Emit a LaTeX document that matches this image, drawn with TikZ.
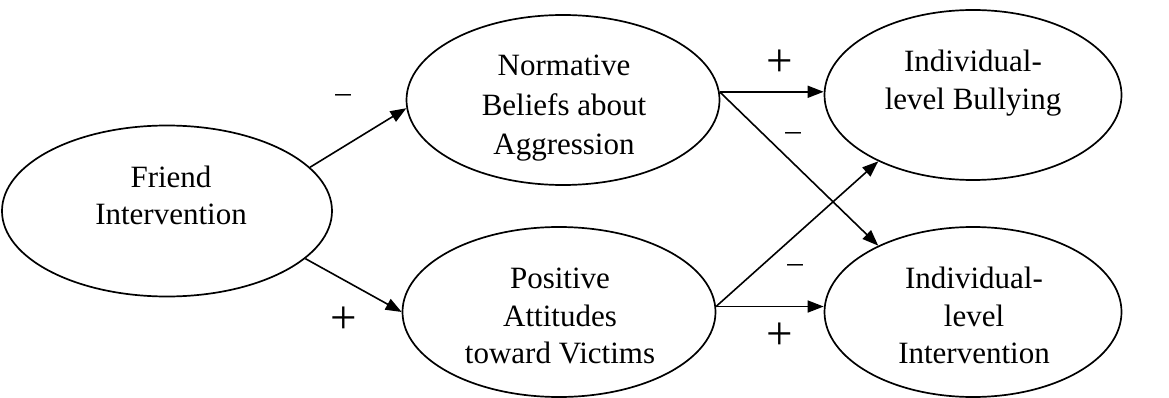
\documentclass[tikz,border=0pt]{standalone}
\usepackage{fontspec}
\setmainfont{Liberation Serif}
\usetikzlibrary{shapes.geometric,arrows.meta}
\begin{document}
\begin{tikzpicture}[x=1pt,y=-1pt,
  oval/.style={draw, ellipse, line width=1.7pt, inner sep=0pt},
  txt/.style={align=center, font=\fontsize{31}{37.5}\selectfont, inner sep=0pt},
  arr/.style={line width=1.6pt, -{Triangle[length=16pt,width=12pt]}},
  plus/.style={inner sep=0pt, font=\fontsize{47}{47}\selectfont},
  neg/.style={inner sep=0pt, anchor=base, font=\fontsize{31}{31}\selectfont}]
\useasboundingbox (0,0) rectangle (1169,398);
% ellipses
\node[oval, minimum width=330pt, minimum height=171pt] (f) at (167,211) {};
\node[oval, minimum width=313pt, minimum height=170pt] (n) at (563,100) {};
\node[oval, minimum width=297pt, minimum height=170pt] (b) at (973,95) {};
\node[oval, minimum width=313pt, minimum height=170pt] (p) at (559,312) {};
\node[oval, minimum width=297pt, minimum height=170pt] (i) at (973,312) {};
% texts
\node[txt] (ft) at (171,195.5) {Friend\\Intervention};
\node[txt, font=\fontsize{31}{39.5}\selectfont] (nt) at (564,108.5) {Normative\\Beliefs about\\Aggression};
\node[txt] (bt) at (973,83) {Individual-\\level Bullying};
\node[txt] (pt) at (560,316) {Positive\\Attitudes\\toward Victims};
\node[txt] (it) at (974,315.5) {Individual-\\level\\Intervention};
% arrows
\draw[arr] (f.17) -- (n.183);
\draw[arr] (f.-19) -- (p.west);
\draw[arr] (n.3) -- (n.3 -| b.west);
\draw[arr] (n.3) -- (i.145);
\draw[arr] (p.2) -- (b.215);
\draw[arr] (p.2) -- (p.2 -| i.west);
% signs
\node[neg] (m1) at (343,102.5) {--};
\node[neg] (m2) at (793,140.5) {--};
\node[neg] (m3) at (795,272.5) {--};
\node[plus] (p1) at (344,320) {+};
\node[plus] (p2) at (780,63) {+};
\node[plus] (p3) at (780,336) {+};
\end{tikzpicture}
\end{document}
